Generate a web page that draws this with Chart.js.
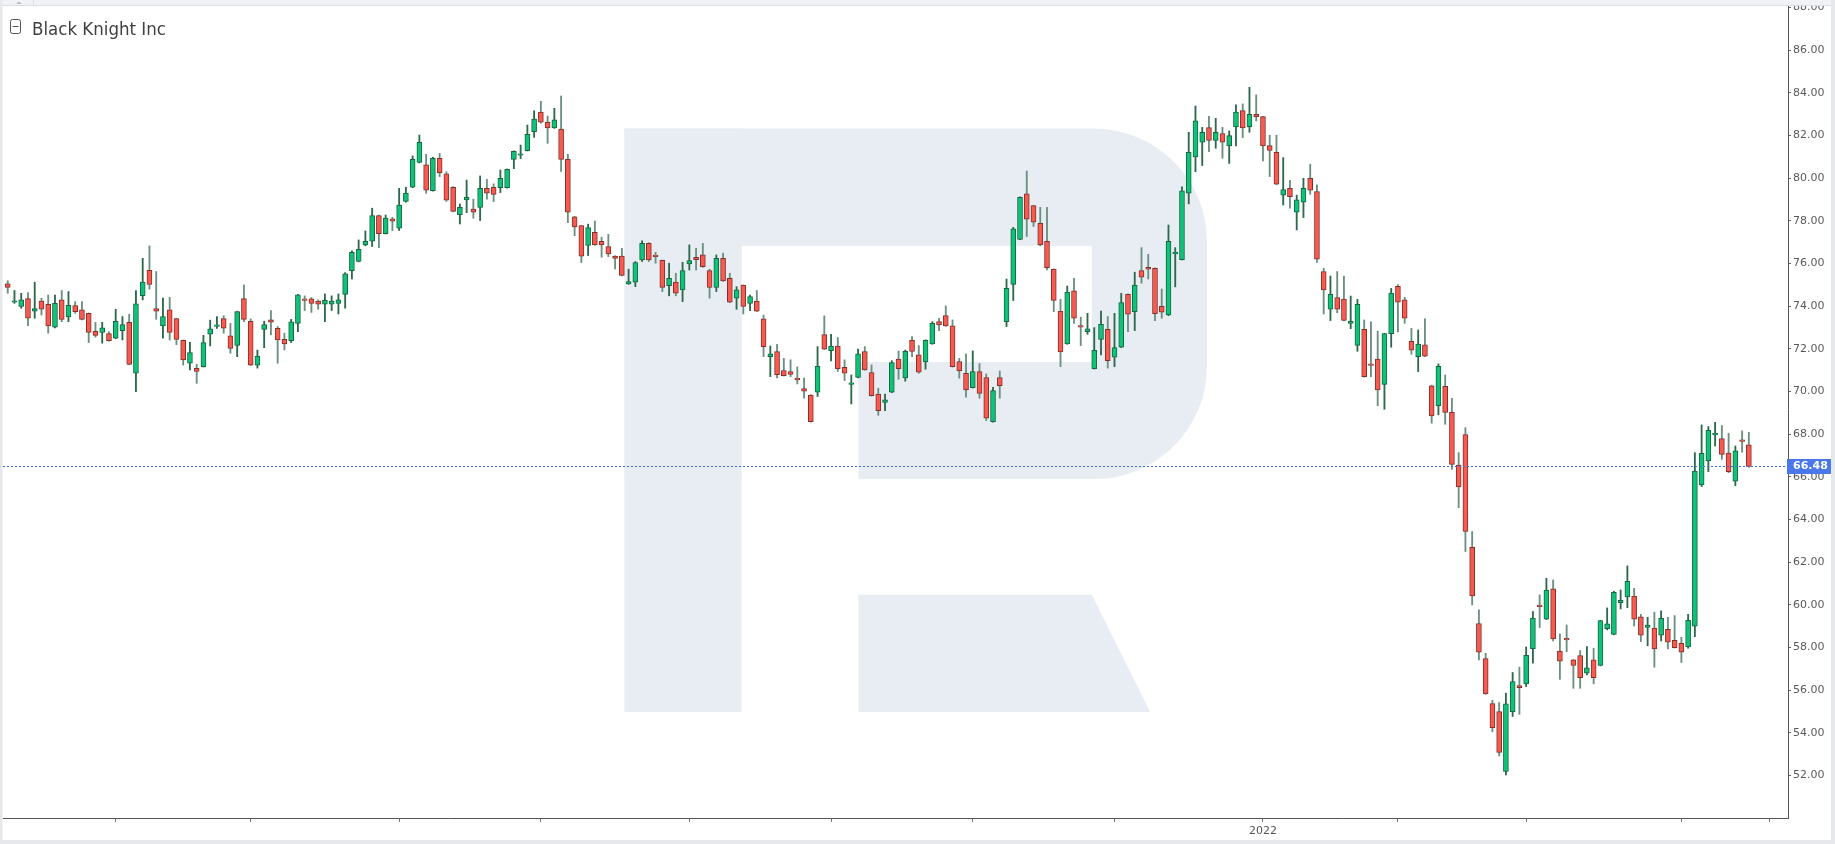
<!DOCTYPE html>
<html>
<head>
<meta charset="utf-8">
<script src="https://cdn.jsdelivr.net/npm/chart.js@4/dist/chart.umd.min.js"></script>
<style>
html,body{margin:0;padding:0;background:#fff;overflow:hidden;}
#wrap{position:relative;width:1835px;height:844px;}
canvas{display:block;}
</style>
</head>
<body>
<div id="wrap"><canvas id="c" width="1835" height="844"></canvas></div>
<script>
// ---------------- DATA ----------------
const title = 'Black Knight Inc';
const lastPrice = 66.48;

const opens = [
75.04,74.18,73.98,74.35,73.76,74.24,74.08,73.01,74.29,73.49,74.02,73.82,73.66,72.82,72.76,72.71,72.49,72.85,73.24,70.85,
74.49,75.68,73.88,73.07,73.82,73.41,72.40,71.32,71.08,71.16,72.68,73.05,73.41,72.60,72.16,74.35,73.29,71.23,72.91,73.35,
72.96,72.44,72.38,73.19,74.34,74.34,74.24,74.09,74.09,74.13,74.55,75.66,76.09,76.87,77.04,78.24,77.40,78.09,77.65,78.91,
79.57,80.73,80.62,79.41,80.93,80.20,79.57,78.29,78.98,78.55,78.62,79.52,79.57,79.55,79.55,80.88,81.07,81.29,82.18,83.10,
82.62,82.35,82.30,80.88,78.19,77.77,76.84,77.46,77.04,76.79,76.34,76.35,75.04,75.12,76.16,76.94,76.38,76.15,74.96,75.13,
74.76,75.98,76.29,76.40,75.66,74.87,76.24,75.30,74.37,74.98,74.13,74.24,73.40,71.63,71.87,70.98,70.93,70.63,70.13,69.83,
69.96,72.66,71.91,72.13,71.13,70.33,70.65,71.87,70.88,69.88,69.48,69.96,71.51,70.63,72.40,71.71,71.38,72.23,73.27,73.55,
73.08,71.40,70.85,70.18,70.93,70.65,68.58,70.65,73.27,75.02,77.13,79.26,78.71,77.88,77.04,75.73,73.76,72.23,74.71,73.08,
72.80,71.07,72.44,72.91,71.60,72.07,74.55,73.74,75.66,75.82,75.77,73.99,73.59,76.45,76.18,79.29,80.99,81.68,82.37,81.77,
82.09,81.51,82.40,83.16,82.41,82.99,82.88,81.52,81.21,79.20,79.52,78.40,78.87,79.99,79.37,75.62,73.85,74.40,74.33,73.19,
72.16,72.91,71.27,71.51,70.33,72.71,74.93,74.29,72.35,71.63,72.18,70.26,69.33,70.24,69.02,66.54,67.97,62.69,59.12,57.47,
55.36,54.99,52.18,54.99,56.21,56.29,57.94,59.97,59.32,60.74,57.83,58.41,57.41,57.61,56.79,57.41,57.15,58.88,58.61,60.10,
60.36,60.41,59.43,58.94,58.90,58.57,58.85,58.33,58.19,58.02,58.99,65.61,66.74,67.96,67.79,67.11,65.79,67.71,67.49
];
const highs = [
75.19,74.73,74.60,74.63,75.12,74.37,74.52,74.52,74.73,74.68,74.21,74.21,73.68,73.24,73.24,72.80,73.85,73.51,73.62,74.73,
76.24,76.82,75.62,74.37,74.41,73.43,72.41,72.30,71.27,72.63,73.34,73.51,73.55,73.19,73.76,74.99,73.40,71.94,73.29,73.79,
73.04,72.73,73.38,74.55,74.48,74.40,74.29,74.57,74.48,74.57,75.57,76.59,77.10,77.52,78.59,78.27,78.27,78.16,79.52,79.57,
81.04,82.02,81.12,80.98,81.16,80.30,79.60,78.79,79.91,79.01,80.10,79.94,79.73,80.38,80.43,81.28,81.55,82.49,83.16,83.60,
82.91,83.27,83.85,81.12,78.21,77.79,77.84,77.99,77.23,77.37,76.36,76.71,75.73,76.09,77.06,76.97,76.52,76.16,76.01,75.54,
76.05,76.87,76.71,76.94,75.73,76.40,76.48,75.54,74.91,74.99,74.52,74.73,73.58,72.13,72.21,71.55,71.48,71.15,70.63,69.85,
72.10,73.54,72.68,72.52,71.48,70.77,71.99,72.10,71.24,70.15,69.88,71.44,71.90,71.94,72.57,72.15,72.42,73.27,73.43,74.01,
73.35,71.55,71.76,71.90,71.30,70.82,70.19,70.96,75.27,77.69,79.12,80.33,78.72,78.63,78.63,75.74,74.32,74.94,75.30,73.48,
73.66,72.99,73.77,73.51,73.66,74.60,74.57,75.59,76.74,76.43,75.79,74.80,77.80,76.74,79.59,82.15,83.38,82.38,82.90,82.80,
82.38,82.21,83.43,83.48,84.26,83.90,82.90,82.01,82.01,80.96,79.90,79.20,79.99,80.65,79.68,75.77,75.41,75.62,75.41,74.47,
74.32,73.35,73.26,72.83,72.73,74.83,75.01,74.41,72.96,72.88,73.41,70.30,71.29,70.77,69.68,67.13,68.30,63.43,59.76,57.72,
55.52,55.41,55.85,56.82,57.07,58.02,59.68,60.46,61.24,61.16,58.63,59.05,57.43,57.85,58.04,57.96,59.27,59.85,60.63,60.69,
61.82,60.77,59.55,59.41,59.65,59.71,59.41,59.49,58.47,59.55,67.13,68.43,68.35,68.55,68.40,68.04,67.44,68.15,68.08
];
const lows = [
74.60,74.13,73.90,73.08,73.43,73.58,72.73,72.98,73.27,73.27,73.66,73.35,72.29,72.54,72.26,72.36,72.47,72.41,71.25,69.99,
74.29,74.79,73.38,72.49,72.41,72.19,71.23,71.01,70.38,71.14,72.13,72.95,72.73,71.79,71.63,73.27,71.21,71.09,72.05,72.65,
71.32,71.94,72.29,72.80,73.79,73.70,73.85,73.27,73.79,73.63,73.90,75.27,76.07,76.82,76.79,76.74,77.38,77.54,77.54,78.87,
79.55,80.71,79.29,79.39,80.07,78.91,78.42,77.85,78.38,78.12,78.01,79.01,78.90,79.32,79.53,80.44,80.91,81.27,81.91,82.57,
81.63,82.33,80.31,77.91,77.30,76.04,76.37,76.85,76.29,76.32,75.74,75.42,75.02,74.91,76.09,76.09,76.01,74.68,74.48,74.48,
74.21,75.69,75.69,75.82,74.37,74.68,75.16,74.16,73.85,73.63,73.79,73.74,71.63,70.69,70.63,70.72,70.69,70.35,69.68,68.56,
69.76,71.96,71.43,70.93,70.51,69.41,70.63,70.99,69.78,68.88,69.10,69.94,70.57,70.48,71.63,70.85,71.04,72.21,72.85,73.05,
71.14,70.62,69.73,70.16,69.68,68.63,68.56,69.68,73.04,74.26,77.11,77.26,77.73,76.82,75.69,73.74,71.16,72.21,73.19,72.15,
72.68,71.05,71.71,71.09,71.16,72.05,72.80,72.85,75.07,75.27,73.32,73.43,73.55,74.90,76.16,78.79,80.30,80.59,81.24,81.40,
80.93,80.69,81.51,81.90,82.15,82.68,80.80,80.07,79.69,78.74,78.59,77.57,78.15,79.24,76.05,73.63,73.32,73.69,73.31,72.94,
71.88,70.67,70.69,69.33,69.16,72.07,72.79,73.19,71.74,70.93,71.63,68.51,68.90,68.46,66.35,64.55,62.49,59.99,57.41,55.80,
54.04,52.91,52.02,54.76,54.86,56.16,57.26,58.93,59.30,58.30,56.50,57.80,56.08,56.08,56.71,56.29,57.13,58.82,58.59,59.80,
59.86,59.00,58.27,58.07,57.07,58.30,57.93,57.97,57.29,57.96,58.50,65.54,66.24,67.44,66.82,66.19,65.58,67.15,66.44
];
const closes = [
74.88,74.24,74.29,73.43,73.88,73.85,73.07,74.13,73.38,74.04,73.74,73.38,72.76,72.63,72.98,72.38,73.30,73.13,71.27,74.10,
75.13,75.02,73.76,73.51,72.76,72.44,71.48,71.82,70.94,72.29,72.93,73.12,72.96,72.01,73.74,73.38,71.23,71.66,73.13,73.24,
72.41,72.23,73.26,74.53,74.27,74.13,74.09,74.27,74.24,74.29,75.51,76.52,76.66,77.04,78.24,77.40,78.13,77.98,78.73,79.30,
80.88,81.68,79.44,80.93,80.26,78.96,78.44,78.63,79.10,78.40,79.52,79.29,79.24,79.99,80.41,81.26,81.13,82.05,82.77,82.62,
82.35,82.73,80.88,78.40,77.71,76.34,77.68,76.87,76.87,76.44,76.23,75.44,75.15,76.04,76.94,76.16,76.32,74.88,75.30,74.60,
75.66,76.13,76.18,75.85,74.87,76.24,75.18,74.18,74.76,73.98,74.44,73.76,72.10,71.76,70.79,70.74,70.80,70.54,70.01,68.58,
71.18,71.98,72.13,71.07,70.85,70.40,71.76,71.01,69.80,69.10,69.60,71.35,71.07,71.88,71.87,70.90,72.40,73.19,73.12,73.07,
71.16,70.96,70.07,70.93,69.90,68.74,70.04,70.27,74.83,77.62,79.10,78.07,77.93,76.87,75.80,74.27,71.85,74.66,73.43,73.01,
72.93,71.93,73.15,71.44,72.05,74.16,73.62,74.98,75.35,75.73,73.65,73.71,77.04,76.51,79.40,81.21,82.68,82.15,81.77,82.15,
81.68,81.99,83.10,82.35,82.99,82.88,81.51,81.30,79.71,79.46,79.13,78.98,79.52,79.44,76.20,74.76,74.55,73.85,73.33,73.29,
74.08,70.69,71.22,70.07,72.71,74.61,74.18,73.43,71.93,72.22,71.65,68.85,71.18,69.01,66.58,65.52,63.43,60.41,57.77,55.82,
54.24,53.08,55.35,56.40,56.11,57.63,59.37,59.91,60.68,58.39,57.35,58.35,57.15,56.58,57.04,56.58,59.26,59.10,60.58,60.21,
61.10,59.32,58.57,59.05,57.93,59.36,58.24,57.99,57.77,59.27,66.27,67.10,68.18,68.02,67.05,66.24,67.21,67.66,66.48
];

// axis ticks
const yTicks = [52,54,56,58,60,62,64,66,68,70,72,74,76,78,80,82,84,86,88];
const xTickIdx = [16,36,58,79,101,122,143,164,186,206,225,248,261];
const xTickLabels = ['','','','','','','','','2022','','','',''];

// ---------------- STYLE ----------------
const UP_FILL = '#0ec27a', UP_EDGE = '#15663f', UP_WICK = '#2d6a4d';
const DN_FILL = '#f85a50', DN_EDGE = '#82302a', DN_WICK = '#6c9080';
const isUp = closes.map((c, i) => c >= opens[i]);

const bodyData = opens.map((o, i) => ({x: i, y: [o, closes[i]]}));
const wickData = lows.map((l, i) => ({x: i, y: [l, highs[i]]}));

const decor = {
  id: 'decor',
  beforeDraw(chart) {
    const ctx = chart.ctx;
    ctx.save();
    ctx.fillStyle = '#ffffff';
    ctx.fillRect(0, 0, chart.width, chart.height);
    // watermark "R"
    const wm = '#e8edf3';
    ctx.fillStyle = wm;
    const x0 = 624.5, y0 = 128.6, x1 = 1207, y1 = 479.1, r = 113;
    const stemR = 741.6, holeR = 1091.8, holeT = 245.8, holeB = 361.9, legL = 858.4;
    const legT = 594.8, bot = 712.0;
    ctx.beginPath();
    ctx.moveTo(x0, y0);
    ctx.lineTo(x1 - r, y0);
    ctx.arcTo(x1, y0, x1, y0 + r, r);
    ctx.lineTo(x1, y1 - r);
    ctx.arcTo(x1, y1, x1 - r, y1, r);
    ctx.lineTo(x0, y1);
    ctx.closePath();
    ctx.fill();
    ctx.fillStyle = '#ffffff';
    ctx.fillRect(stemR, holeT, holeR - stemR, holeB - holeT);
    ctx.fillRect(stemR, holeB, legL - stemR, y1 - holeB + 0.5);
    ctx.fillStyle = wm;
    ctx.fillRect(x0, y0, stemR - x0, bot - y0);
    ctx.beginPath();
    ctx.moveTo(legL, legT);
    ctx.lineTo(holeR, legT);
    ctx.lineTo(1150.2, bot);
    ctx.lineTo(legL, bot);
    ctx.closePath();
    ctx.fill();
    ctx.restore();
  },
  afterDatasetsDraw(chart) {
    const ctx = chart.ctx, a = chart.chartArea;
    const py = Math.round(chart.scales.y.getPixelForValue(lastPrice)) + 0.5;
    ctx.save();
    ctx.strokeStyle = '#3f6ff0';
    ctx.lineWidth = 1;
    ctx.setLineDash([2, 2]);
    ctx.beginPath();
    ctx.moveTo(a.left, py);
    ctx.lineTo(a.right, py);
    ctx.stroke();
    ctx.restore();
  },
  afterDraw(chart) {
    const ctx = chart.ctx, a = chart.chartArea, W = chart.width, H = chart.height;
    const py = chart.scales.y.getPixelForValue(lastPrice);
    ctx.save();
    ctx.fillStyle = '#4a78ea';
    ctx.fillRect(a.right - 1, Math.round(py) - 7, 44, 15);
    ctx.fillStyle = '#ffffff';
    ctx.font = 'bold 11px "DejaVu Sans"';
    ctx.textBaseline = 'middle';
    ctx.textAlign = 'left';
    ctx.fillText(lastPrice.toFixed(2), a.right + 5, Math.round(py) + 0.5);
    ctx.fillStyle = '#f1f2f5';
    ctx.fillRect(0, 0, W, 5);
    ctx.fillStyle = '#dcdfe4';
    ctx.fillRect(0, 5, W, 1);
    ctx.fillRect(33, 0, 1, 5);
    ctx.fillStyle = '#b9bdc5';
    ctx.beginPath();
    ctx.moveTo(16, 4); ctx.lineTo(22, 4); ctx.lineTo(19, 1.5); ctx.closePath(); ctx.fill();
    ctx.fillStyle = '#e6e8ec';
    ctx.fillRect(0, 0, 2.5, H);
    ctx.fillRect(0, 840, W, 4);
    ctx.fillRect(1831, 0, 4, H);
    ctx.strokeStyle = '#555555';
    ctx.lineWidth = 1;
    ctx.beginPath();
    if (ctx.roundRect) ctx.roundRect(10.5, 19.5, 10, 14, 2); else ctx.rect(10.5, 19.5, 10, 14);
    ctx.stroke();
    ctx.beginPath();
    ctx.moveTo(12.5, 26.5); ctx.lineTo(18.5, 26.5);
    ctx.stroke();
    ctx.fillStyle = '#404040';
    ctx.font = '18.5px "DejaVu Sans Condensed", "DejaVu Sans", sans-serif';
    ctx.textBaseline = 'alphabetic';
    ctx.fillText(title, 32, 34.5);
    ctx.restore();
  }
};

new Chart(document.getElementById('c'), {
  type: 'bar',
  data: {
    datasets: [
      {
        label: 'body',
        data: bodyData,
        order: 0,
        grouped: false,
        barThickness: 5,
        minBarLength: 1.5,
        borderWidth: 1,
        borderSkipped: false,
        backgroundColor: isUp.map(u => u ? UP_FILL : DN_FILL),
        borderColor: isUp.map(u => u ? UP_EDGE : DN_EDGE)
      },
      {
        label: 'wick',
        data: wickData,
        order: 1,
        grouped: false,
        barThickness: 1.2,
        borderWidth: 0,
        backgroundColor: isUp.map(u => u ? UP_WICK : DN_WICK)
      }
    ]
  },
  options: {
    responsive: false,
    devicePixelRatio: 1,
    animation: false,
    events: [],
    layout: {padding: {left: 3, top: 0, right: 0, bottom: 0}},
    plugins: {legend: {display: false}, tooltip: {enabled: false}, title: {display: false}},
    scales: {
      x: {
        type: 'linear',
        position: 'bottom',
        min: -0.7,
        max: 263.8,
        offset: false,
        grid: {display: true, drawOnChartArea: false, drawTicks: true, tickLength: 4, color: '#777777', offset: false},
        border: {display: true, color: '#555555', width: 1},
        ticks: {
          autoSkip: false, maxRotation: 0, padding: 3,
          color: '#555555', font: {family: 'DejaVu Sans', size: 11},
          callback: (v, i) => xTickLabels[i] || ''
        },
        afterBuildTicks: axis => { axis.ticks = xTickIdx.map(v => ({value: v})); },
        afterFit: s => { s.height = 26; s.paddingLeft = 0; s.paddingRight = 0; }
      },
      y: {
        type: 'linear',
        position: 'right',
        min: 50,
        max: 88.35,
        beginAtZero: false,
        grid: {display: true, drawOnChartArea: false, drawTicks: true, tickLength: 3, color: '#666666'},
        border: {display: true, color: '#555555', width: 1},
        ticks: {
          padding: 2, color: '#5a5a5a', font: {family: 'DejaVu Sans', size: 11},
          callback: v => Number(v).toFixed(2)
        },
        afterBuildTicks: axis => { axis.ticks = yTicks.map(v => ({value: v})); },
        afterFit: s => { s.width = 47; s.paddingTop = 0; s.paddingBottom = 0; }
      }
    }
  },
  plugins: [decor]
});
</script>
</body>
</html>
